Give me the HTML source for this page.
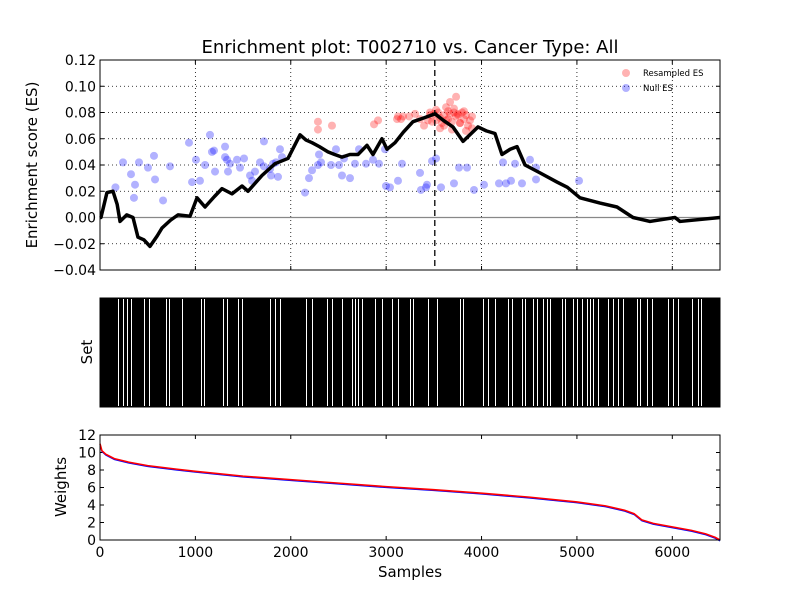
<!DOCTYPE html>
<html><head><meta charset="utf-8"><style>
body{margin:0;background:#fff}
svg text{font-family:"DejaVu Sans","Liberation Sans",sans-serif}
</style></head><body>
<svg id="c" width="800" height="600" xmlns="http://www.w3.org/2000/svg">
<rect width="800" height="600" fill="#fff"/>
</svg>
<script>
const esSamples=[0,10,73,136,180,210,280,346,398,460,524,600,650,740,818,944,1017,1101,1200,1279,1384,1489,1552,1698,1835,1971,2097,2160,2223,2300,2390,2460,2537,2620,2705,2799,2862,2956,3009,3093,3180,3281,3400,3512,3600,3700,3806,3963,4050,4141,4214,4300,4372,4456,4613,4791,4900,5032,5242,5420,5588,5766,6028,6081,6500];
const esValues=[0,0,0.019,0.02,0.01,-0.003,0.002,0,-0.015,-0.017,-0.022,-0.014,-0.008,-0.002,0.002,0.001,0.015,0.008,0.016,0.022,0.018,0.024,0.02,0.032,0.041,0.045,0.063,0.059,0.057,0.054,0.05,0.048,0.046,0.048,0.048,0.055,0.048,0.06,0.052,0.057,0.065,0.073,0.076,0.079,0.074,0.069,0.058,0.069,0.066,0.064,0.048,0.052,0.054,0.04,0.034,0.027,0.023,0.015,0.011,0.008,0,-0.003,0,-0.003,0];
const nullX=[162,241,325,367,409,356,503,566,577,661,734,933,965,1006,1048,1101,1153,1174,1195,1206,1311,1311,1332,1342,1363,1436,1468,1510,1573,1594,1625,1678,1719,1719,1783,1793,1814,1845,1866,1887,1908,2149,2191,2223,2285,2296,2317,2422,2474,2506,2537,2558,2621,2673,2715,2789,2862,2925,2988,2998,3040,3124,3166,3355,3365,3418,3428,3481,3575,3523,3711,3764,3848,3921,4026,4183,4225,4256,4309,4351,4424,4508,4571,4571,5022];
const nullY=[0.023,0.042,0.033,0.025,0.042,0.015,0.038,0.047,0.029,0.013,0.039,0.057,0.027,0.044,0.028,0.04,0.063,0.05,0.051,0.035,0.046,0.054,0.044,0.035,0.041,0.044,0.038,0.045,0.032,0.028,0.035,0.042,0.058,0.039,0.037,0.032,0.041,0.042,0.031,0.052,0.046,0.019,0.03,0.036,0.04,0.048,0.042,0.04,0.052,0.04,0.032,0.045,0.03,0.041,0.052,0.041,0.044,0.041,0.052,0.024,0.023,0.028,0.041,0.034,0.021,0.023,0.025,0.043,0.023,0.045,0.026,0.038,0.038,0.021,0.025,0.026,0.042,0.026,0.028,0.041,0.026,0.044,0.038,0.029,0.028];
const resX=[2285,2285,2432,2873,2915,3114,3124,3156,3177,3240,3303,3355,3397,3439,3460,3481,3502,3523,3544,3565,3586,3607,3628,3649,3670,3690,3711,3732,3753,3774,3795,3816,3837,3858,3879,3900,3670,3733,3565,3607,3649,3711,3774,3837,3900,3523,3460,3628,3690,3753,3816];
const resY=[0.067,0.073,0.07,0.071,0.074,0.075,0.077,0.075,0.077,0.077,0.079,0.075,0.07,0.074,0.078,0.073,0.079,0.082,0.08,0.076,0.072,0.078,0.074,0.081,0.079,0.073,0.083,0.077,0.078,0.072,0.08,0.075,0.078,0.07,0.074,0.077,0.088,0.092,0.068,0.07,0.075,0.08,0.072,0.066,0.068,0.074,0.08,0.084,0.067,0.079,0.081];
const gapSamples=[189,241,283,325,461,514,692,723,860,1059,1090,1290,1331,1447,1489,1782,1835,1887,2160,2223,2380,2433,2537,2642,2673,2705,2747,2883,2956,3061,3124,3250,3281,3439,3533,3774,3806,4015,4068,4141,4277,4319,4424,4456,4540,4582,4645,4687,4718,4844,4875,4959,5001,5053,5106,5137,5169,5221,5326,5378,5431,5483,5630,5662,5735,5787,5955,6008,6060,6207,6270,6301];
const wSamples=[0,20,60,150,300,500,800,1000,1500,2000,2500,3000,3500,4000,4500,5000,5300,5500,5600,5680,5800,6000,6200,6350,6450,6500];
const wValues=[11,10.2,9.8,9.3,8.9,8.5,8.1,7.85,7.3,6.9,6.5,6.1,5.75,5.35,4.9,4.35,3.9,3.4,3.0,2.3,1.9,1.5,1.1,0.7,0.3,0];
const xTicks=[0,1000,2000,3000,4000,5000,6000];
const esTicks=[-0.04,-0.02,0,0.02,0.04,0.06,0.08,0.1,0.12];
const wTicks=[0,2,4,6,8,10,12];
const NS='http://www.w3.org/2000/svg',svgEl=document.getElementById('c');
const L=100,R=720;
const X=s=>L+s*(R-L)/6500;
const Y1=v=>270-(v+0.04)*210/0.16;
const Y3=v=>540-v*105/12;
function mk(t,a,p){const e=document.createElementNS(NS,t);for(const k in a)e.setAttribute(k,a[k]);(p||svgEl).appendChild(e);return e;}
function txt(s,x,y,sz,anc,rot,p){const e=mk('text',{x:x,y:y,'font-size':sz,'text-anchor':anc||'middle',fill:'#000'},p);if(rot)e.setAttribute('transform','rotate(-90 '+x+' '+y+')');e.textContent=s;return e;}
// top panel
const topG=mk('g',{});


xTicks.slice(1).forEach(t=>{const g=mk('line',{x1:X(t),x2:X(t),y1:60,y2:270,stroke:'#000','stroke-dasharray':'1,3','stroke-width':0.8},topG);

});
esTicks.forEach(t=>{const y=Y1(t);if(t!==0&&t>-0.04&&t<0.12){const g=mk('line',{x1:L,x2:R,y1:y,y2:y,stroke:'#000','stroke-dasharray':'1,3','stroke-width':0.8},topG);

}
 mk('line',{x1:L,x2:L+4,y1:y,y2:y,stroke:'#000'},topG);mk('line',{x1:R-4,x2:R,y1:y,y2:y,stroke:'#000'},topG);
 const l=txt(t.toFixed(2).replace('-','\u2212'),L-4,y+5,14,'end');
 
 });
xTicks.forEach(t=>{mk('line',{x1:X(t),x2:X(t),y1:270,y2:266,stroke:'#000'},topG);mk('line',{x1:X(t),x2:X(t),y1:60,y2:64,stroke:'#000'},topG);});
const zl=mk('line',{x1:L,x2:R,y1:Y1(0),y2:Y1(0),stroke:'#888','stroke-width':1.2},topG);


nullX.forEach((s,i)=>{const c=mk('circle',{cx:X(s),cy:Y1(nullY[i]),r:4,fill:'#0000ff','fill-opacity':0.3},topG);

});
resX.forEach((s,i)=>{const c=mk('circle',{cx:X(s),cy:Y1(resY[i]),r:4,fill:'#ff0000','fill-opacity':0.3},topG);

});
const pl=mk('polyline',{points:esSamples.map((s,i)=>X(s)+','+Y1(esValues[i])).join(' '),fill:'none',stroke:'#000','stroke-width':3.5,'stroke-linejoin':'round'},topG);


const dl=mk('line',{x1:X(3510),x2:X(3510),y1:60,y2:270,stroke:'#000','stroke-width':1.3,'stroke-dasharray':'6,4'},topG);


mk('rect',{x:L,y:60,width:R-L,height:210,fill:'none',stroke:'#000'},topG);
const lg=mk('g',{});


mk('circle',{cx:626,cy:73,r:4,fill:'#ff0000','fill-opacity':0.3},lg);
const lr=txt('Resampled ES',643,76,8.5,'start',false,lg);


mk('circle',{cx:626,cy:88,r:4,fill:'#0000ff','fill-opacity':0.3},lg);
const ln=txt('Null ES',643,91,8.5,'start',false,lg);


const tt=txt('Enrichment plot: T002710 vs. Cancer Type: All',410,53,18);


const yt=txt('Enrichment score (ES)',37,165,15,'middle',true);


// set panel
const midG=mk('g',{'shape-rendering':'crispEdges'});


mk('rect',{x:L,y:298,width:R-L,height:109,fill:'#000'},midG);
gapSamples.forEach(s=>{const g=mk('rect',{x:Math.round(X(s)),y:299,width:1,height:107,fill:'#fff'},midG);

});
mk('rect',{x:L,y:298,width:R-L,height:109,fill:'none',stroke:'#000'},midG);
const st=txt('Set',92,352,15,'middle',true);


// weights panel
const botG=mk('g',{});


wTicks.forEach(t=>{const y=Y3(t);mk('line',{x1:L,x2:L+4,y1:y,y2:y,stroke:'#000'},botG);mk('line',{x1:R-4,x2:R,y1:y,y2:y,stroke:'#000'},botG);const l=txt(String(t),L-4,y+5,14,'end');

});
xTicks.forEach(t=>{mk('line',{x1:X(t),x2:X(t),y1:540,y2:536,stroke:'#000'},botG);mk('line',{x1:X(t),x2:X(t),y1:435,y2:439,stroke:'#000'},botG);const l=txt(String(t),X(t),557,14);

});
const wp=wSamples.map((s,i)=>X(s)+','+Y3(wValues[i])).join(' ');
mk('polyline',{points:wp,fill:'none',stroke:'#0000ff','stroke-width':1,transform:'translate(0,1)'},botG);
const wl=mk('polyline',{points:wp,fill:'none',stroke:'#ff0000','stroke-width':1.6},botG);


mk('rect',{x:L,y:435,width:R-L,height:105,fill:'none',stroke:'#000'},botG);
const wt=txt('Weights',66,487,15,'middle',true);


const xt=txt('Samples',410,577,15);


</script>
</body></html>
